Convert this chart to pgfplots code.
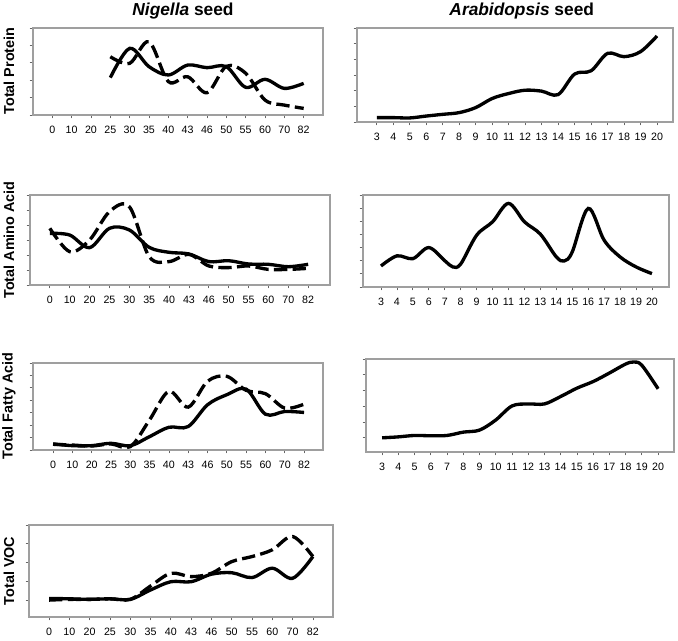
\documentclass[border=0pt]{standalone}
\usepackage{fontspec}
\setmainfont{Liberation Sans}
\usepackage{pgfplots}
\pgfplotsset{compat=1.18}
\pgfplotsset{
  panel/.style={scale only axis, anchor=south west,
    axis line style={gray!75, line width=0.8pt},
    tick style={gray!80!black, line width=0.6pt},
    tick align=outside, major tick length=2.5pt,
    xtick pos=bottom, ytick pos=left, yticklabels={},
    ticklabel style={font=\fontsize{8}{9}\selectfont},
    xticklabel style={yshift=-2.2pt},
    clip=false},
  nig/.style={xtick={0,...,13}, xticklabels={0,10,20,25,30,35,40,43,46,50,55,60,70,82}},
  ara/.style={xtick={3,...,20}, xticklabels={3,4,5,6,7,8,9,10,11,12,13,14,15,16,17,18,19,20}},
  sol/.style={black, line width=2.5pt, smooth, tension=0.55},
  dsh/.style={black, line width=2.5pt, smooth, tension=0.55, dash pattern=on 10pt off 4pt},
}
\begin{document}
\begin{tikzpicture}
\useasboundingbox (0,0) rectangle (508.5pt,-480pt);
% titles
\node[anchor=base, font=\fontsize{13}{15}\selectfont\bfseries] at (137.25pt,-11.5pt) {\textit{Nigella} seed};
\node[anchor=base, font=\fontsize{13}{15}\selectfont\bfseries] at (391.3pt,-11.5pt) {\textit{Arabidopsis} seed};
% y labels
\node[rotate=90, font=\fontsize{10.8}{12}\selectfont\bfseries] at (6.75pt,-53.25pt) {Total Protein};
\node[rotate=90, font=\fontsize{10.8}{12}\selectfont\bfseries] at (6.75pt,-180pt) {Total Amino Acid};
\node[rotate=90, font=\fontsize{10.8}{12}\selectfont\bfseries] at (6.75pt,-304.5pt) {Total Fatty Acid};
\node[rotate=90, font=\fontsize{10.8}{12}\selectfont\bfseries] at (6.75pt,-428.25pt) {Total VOC};

% Panel 1: Nigella protein
\begin{axis}[panel, nig, at={(24.75pt,-86.25pt)}, width=217.5pt, height=65.25pt,
  xmin=-1, xmax=14, ymin=0, ymax=5, ytick={0,...,5}]
\addplot[sol] coordinates {(3,2.15)(4,3.83)(5,2.78)(6,2.30)(7,2.87)(8,2.72)(9,2.78)(10,1.59)(11,2.05)(12,1.53)(13,1.82)};
\addplot[dsh] coordinates {(3,3.35)(4,2.97)(5,4.21)(6,1.92)(7,2.20)(8,1.28)(9,2.8)(10,2.4)(11,0.86)(12,0.57)(13,0.38)};
\end{axis}

% Panel 2: Arabidopsis protein
\begin{axis}[panel, ara, at={(267.75pt,-91.5pt)}, width=237pt, height=70.5pt,
  xmin=1.8, xmax=20.97, ymin=0, ymax=6, ytick={0,...,6}]
\addplot[sol] coordinates {(3,0.28)(4,0.28)(5,0.26)(6,0.38)(7,0.49)(8,0.6)(9,0.92)(10,1.5)(11,1.82)(12,2.03)(13,1.97)(14,1.75)(15,3.06)(16,3.27)(17,4.38)(18,4.17)(19,4.49)(20,5.49)};
\end{axis}

% Panel 3: Nigella amino acid
\begin{axis}[panel, nig, at={(22.5pt,-213.75pt)}, width=225pt, height=67.5pt,
  xmin=-1, xmax=14.1, ymin=0, ymax=6, ytick={0,...,6}]
\addplot[sol] coordinates {(0,3.44)(1,3.33)(2,2.49)(3,3.78)(4,3.67)(5,2.51)(6,2.18)(7,2.07)(8,1.56)(9,1.62)(10,1.4)(11,1.38)(12,1.22)(13,1.38)};
\addplot[dsh] coordinates {(0,3.78)(1,2.22)(2,3.0)(3,4.89)(4,5.22)(5,1.89)(6,1.56)(7,2.04)(8,1.27)(9,1.16)(10,1.27)(11,1.04)(12,1.04)(13,1.11)};
\end{axis}

% Panel 4: Arabidopsis amino acid
\begin{axis}[panel, ara, at={(272.25pt,-215.25pt)}, width=229.5pt, height=69pt,
  xmin=1.87, xmax=21.07, ymin=0, ymax=7, ytick={0,...,7}]
\addplot[sol] coordinates {(3,1.6)(4,2.37)(5,2.16)(6,3.0)(7,2.0)(7.5,1.53)(8,1.75)(9,3.94)(10,4.96)(11,6.36)(12,4.96)(13,4.02)(14,2.29)(14.5,1.98)(15,2.67)(16,5.98)(17,3.56)(18,2.29)(19,1.53)(20,1.02)};
\end{axis}

% Panel 5: Nigella fatty acid
\begin{axis}[panel, nig, at={(24.75pt,-337.5pt)}, width=217.5pt, height=65.25pt,
  xmin=-1.04, xmax=13.98, ymin=0, ymax=7, ytick={0,...,7}]
\addplot[sol] coordinates {(0,0.49)(1,0.35)(2,0.35)(3,0.54)(4,0.35)(5,1.08)(6,1.83)(7,1.89)(8,3.64)(9,4.45)(10,4.9)(11,2.88)(12,3.1)(13,3.02)};
\addplot[dsh] coordinates {(0,0.46)(1,0.4)(2,0.32)(3,0.49)(4,0.27)(5,2.43)(6,4.72)(7,3.45)(8,5.53)(9,5.93)(10,4.8)(11,4.53)(12,3.37)(13,3.69)};
\end{axis}

% Panel 6: Arabidopsis fatty acid
\begin{axis}[panel, ara, at={(274.5pt,-339pt)}, width=231pt, height=69.75pt,
  xmin=2.01, xmax=20.98, ymin=0.1, ymax=6, ytick={1,...,6}]
\addplot[sol] coordinates {(3,1.0)(4,1.06)(5,1.15)(6,1.13)(7,1.15)(8,1.36)(9,1.49)(10,2.13)(11,3.02)(12,3.15)(13,3.15)(14,3.62)(15,4.15)(16,4.57)(17,5.11)(18,5.68)(18.5,5.81)(19,5.6)(20,4.11)};
\end{axis}

% Panel 7: Nigella VOC
\begin{axis}[panel, nig, at={(21.75pt,-462.75pt)}, width=228pt, height=69pt,
  xmin=-0.99, xmax=13.99, ymin=0.1, ymax=5, ytick={1,...,5}]
\addplot[sol] coordinates {(0,1.09)(1,1.07)(2,1.04)(3,1.07)(4,1.04)(5,1.54)(6,1.98)(7,1.98)(8,2.38)(9,2.46)(10,2.2)(11,2.7)(12,2.16)(13,3.32)};
\addplot[dsh] coordinates {(0,1.0)(1,1.04)(2,1.04)(3,1.07)(4,1.04)(5,1.75)(6,2.43)(7,2.25)(8,2.43)(9,3.05)(10,3.32)(11,3.68)(12,4.39)(13,3.32)};
\end{axis}
\end{tikzpicture}
\end{document}
